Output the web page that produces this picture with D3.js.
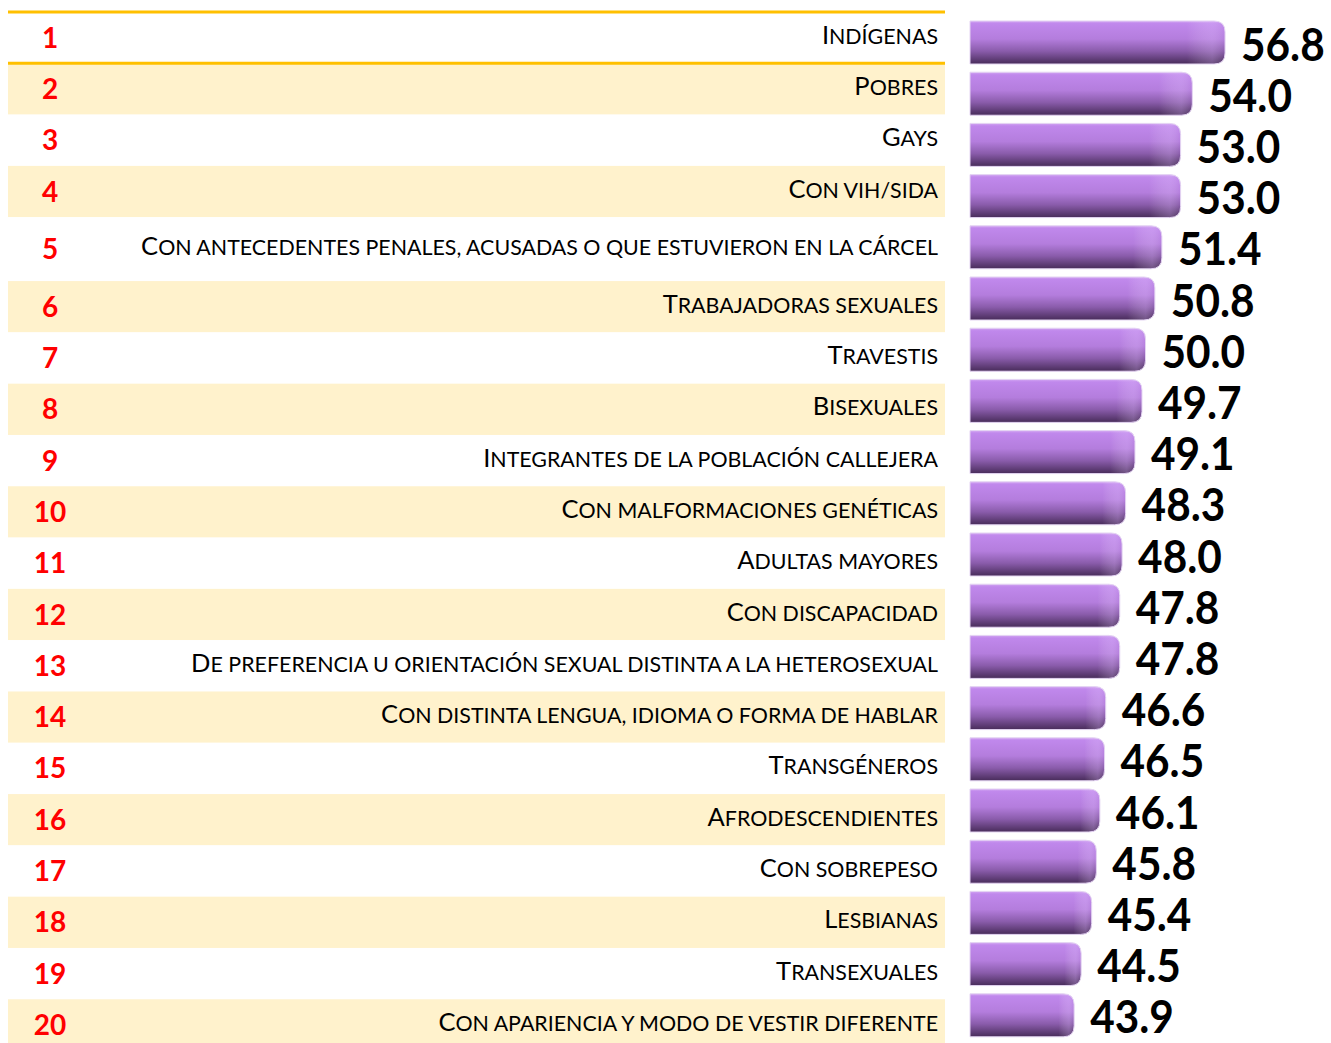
<!DOCTYPE html>
<meta charset="utf-8">
<style>
body { margin: 0; background: #fff; }
text { font-family: Lato, "Open Sans", sans-serif; }
</style>
<body>
<script src="https://cdn.jsdelivr.net/npm/d3@7"></script>
<script>
var width = 1331,
	height = 1043;

var ranks = ["1","2","3","4","5","6","7","8","9","10","11","12","13","14","15","16","17","18","19","20"];

var categories = [
	"Indígenas",
	"Pobres",
	"Gays",
	"Con vih/sida",
	"Con antecedentes penales, acusadas o que estuvieron en la cárcel",
	"Trabajadoras sexuales",
	"Travestis",
	"Bisexuales",
	"Integrantes de la población callejera",
	"Con malformaciones genéticas",
	"Adultas mayores",
	"Con discapacidad",
	"De preferencia u orientación sexual distinta a la heterosexual",
	"Con distinta lengua, idioma o forma de hablar",
	"Transgéneros",
	"Afrodescendientes",
	"Con sobrepeso",
	"Lesbianas",
	"Transexuales",
	"Con apariencia y modo de vestir diferente"
];

var values = [56.8, 54.0, 53.0, 53.0, 51.4, 50.8, 50.0, 49.7, 49.1, 48.3,
	48.0, 47.8, 47.8, 46.6, 46.5, 46.1, 45.8, 45.4, 44.5, 43.9];

var svg = d3.select("body").append("svg")
			.attr("width", width)
			.attr("height", height);

// table rows (row 5 is taller in the original table)
var rowH = 51.3,
	tableTop = 12,
	tableL = 8,
	tableR = 945;
var rowHeights = categories.map(function(d, i) { return i == 4 ? rowH * 1.245 : rowH; });
var rowTops = [];
rowHeights.reduce(function(acc, h) { rowTops.push(acc); return acc + h; }, tableTop);

var rows = svg.append("g").attr("class", "rows")
	.selectAll("g")
	.data(categories)
	.enter().append("g")
	.attr("transform", function(d, i) { return "translate(0," + rowTops[i] + ")"; });

rows.append("rect")
	.attr("x", tableL)
	.attr("width", tableR - tableL)
	.attr("height", function(d, i) { return rowHeights[i]; })
	.style("fill", function(d, i) { return i % 2 ? "#fff2cc" : "#ffffff"; });

rows.append("text")
	.attr("x", 50)
	.attr("y", function(d, i) { return rowHeights[i]/2 + 10; })
	.attr("text-anchor", "middle")
	.style("font-size", "28px")
	.style("font-weight", "bold")
	.style("fill", "#ff0000")
	.text(function(d, i) { return ranks[i]; });

// small caps done by hand: first letter full size, the rest upper case and smaller
var labels = rows.append("text")
	.attr("x", 938)
	.attr("y", function(d, i) { return rowHeights[i]/2 + 6; })
	.attr("text-anchor", "end")
	.style("fill", "#000");

labels.append("tspan")
	.style("font-size", "25.5px")
	.text(function(d) { return d.charAt(0); });
labels.append("tspan")
	.style("font-size", "21.4px")
	.text(function(d) { return d.slice(1).toUpperCase(); });

// gold rules around the first row
svg.append("g").selectAll("line")
	.data([rowTops[0], rowTops[1]])
	.enter().append("line")
	.attr("x1", tableL)
	.attr("x2", tableR)
	.attr("y1", function(d) { return d; })
	.attr("y2", function(d) { return d; })
	.style("stroke", "#ffc000")
	.style("stroke-width", 3);

// bars
var x = d3.scaleLinear()
	.domain([35, 60])
	.range([970, 970 + 25 * 11.7]);

var y = d3.scaleBand()
	.domain(categories)
	.range([16.9, 1040.9])
	.paddingInner(0.16)
	.paddingOuter(0.08);

var defs = svg.append("defs");
var grad = defs.append("linearGradient")
	.attr("id", "barFill")
	.attr("x1", 0).attr("y1", 0).attr("x2", 0).attr("y2", 1);
[[0, "#d2a6f2"], [0.06, "#c088ec"], [0.42, "#b47ddd"], [0.7, "#8a5cab"], [1, "#482c5a"]]
	.forEach(function(s) {
		grad.append("stop").attr("offset", s[0]).attr("stop-color", s[1]);
	});

var shine = defs.append("linearGradient")
	.attr("id", "barShine")
	.attr("x1", 0).attr("y1", 0).attr("x2", 1).attr("y2", 0);
[[0, "#ffffff", 0], [0.85, "#ffffff", 0], [0.95, "#e6c8ff", 0.25], [1, "#ffffff", 0]]
	.forEach(function(s) {
		shine.append("stop").attr("offset", s[0]).attr("stop-color", s[1]).attr("stop-opacity", s[2]);
	});

function barPath(x0, x1, y0, h, r) {
	return "M" + x0 + "," + y0 +
		"H" + (x1 - r) +
		"Q" + x1 + "," + y0 + " " + x1 + "," + (y0 + r) +
		"V" + (y0 + h - r) +
		"Q" + x1 + "," + (y0 + h) + " " + (x1 - r) + "," + (y0 + h) +
		"H" + x0 + "Z";
}

var bars = svg.append("g").attr("class", "bars")
	.selectAll("g")
	.data(values)
	.enter().append("g");

bars.append("path")
	.attr("d", function(d, i) { return barPath(x(35), x(d), y(categories[i]), y.bandwidth(), 11); })
	.style("fill", "url(#barFill)")
	.style("stroke", "#e4d4f2")
	.style("stroke-width", 1);

bars.append("path")
	.attr("d", function(d, i) { return barPath(x(35), x(d), y(categories[i]), y.bandwidth(), 11); })
	.style("fill", "url(#barShine)");

bars.append("text")
	.attr("x", function(d) { return x(d) + 16; })
	.attr("y", function(d, i) { return y(categories[i]) + y.bandwidth()/2 + 18; })
	.style("font-size", "45px")
	.style("font-weight", "bold")
	.style("fill", "#000")
	.text(function(d) { return d3.format(".1f")(d); })
	.each(function() {
		var len = this.getComputedTextLength();
		d3.select(this).attr("textLength", len * 0.94).attr("lengthAdjust", "spacingAndGlyphs");
	});

</script>
</body>
